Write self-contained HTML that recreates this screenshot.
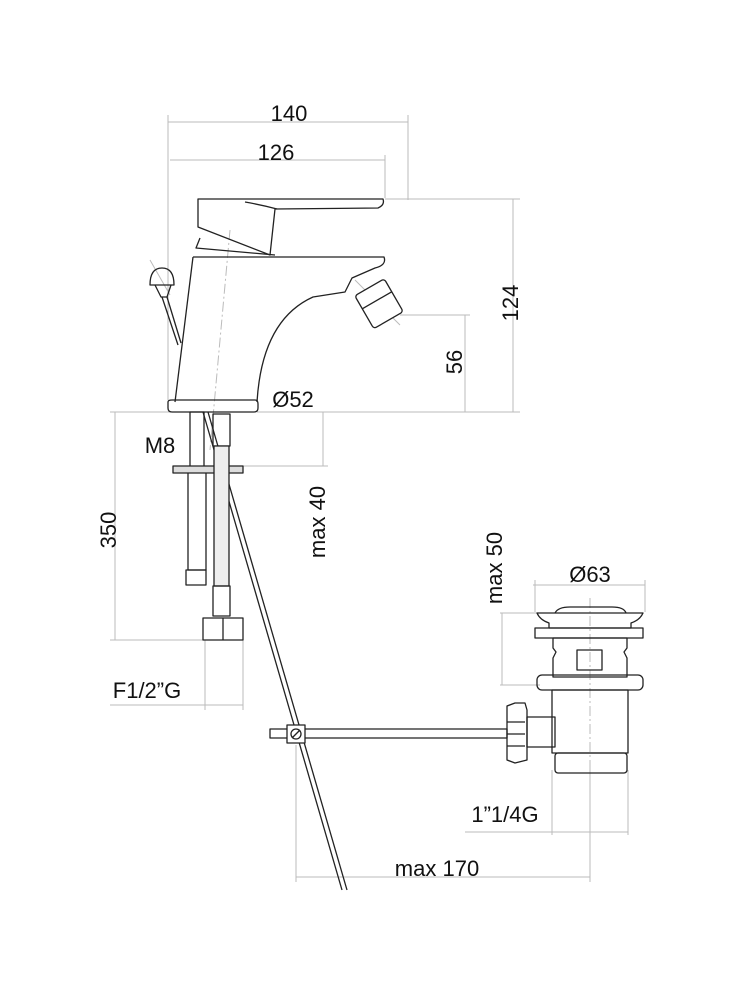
<!DOCTYPE html>
<html><head><style>html,body{margin:0;padding:0;background:#fff}svg{display:block}text{font-family:"Liberation Sans",sans-serif;fill:#111}</style></head>
<body>
<svg width="730" height="1000" viewBox="0 0 730 1000" xmlns="http://www.w3.org/2000/svg">
<g stroke="#bbb" stroke-width="1" fill="none">
<line x1="168" y1="122" x2="408" y2="122"/><line x1="168" y1="115" x2="168" y2="400"/><line x1="408" y1="115" x2="408" y2="200"/>
<line x1="170" y1="160" x2="385" y2="160"/><line x1="385" y1="155" x2="385" y2="198"/>
<line x1="385" y1="199" x2="520" y2="199"/><line x1="513" y1="199" x2="513" y2="412"/><line x1="257" y1="412" x2="520" y2="412"/>
<line x1="400" y1="315" x2="470" y2="315"/><line x1="465" y1="315" x2="465" y2="412"/>
<line x1="110" y1="412" x2="210" y2="412"/><line x1="115" y1="412" x2="115" y2="640"/><line x1="110" y1="640" x2="205" y2="640"/>
<line x1="243" y1="466" x2="328" y2="466"/><line x1="323" y1="412" x2="323" y2="466"/>
<line x1="205" y1="640" x2="205" y2="710"/><line x1="243" y1="640" x2="243" y2="710"/><line x1="110" y1="705" x2="243" y2="705"/>
<line x1="535" y1="580" x2="535" y2="612"/><line x1="645" y1="580" x2="645" y2="612"/><line x1="533" y1="585" x2="645" y2="585"/>
<line x1="500" y1="613" x2="540" y2="613"/><line x1="500" y1="685" x2="540" y2="685"/><line x1="502" y1="613" x2="502" y2="685"/>
<line x1="552" y1="770" x2="552" y2="835"/><line x1="628" y1="770" x2="628" y2="835"/><line x1="465" y1="832" x2="628" y2="832"/>
<line x1="296" y1="745" x2="296" y2="882"/><line x1="590" y1="770" x2="590" y2="882"/><line x1="296" y1="877" x2="590" y2="877"/>
<line x1="590" y1="598" x2="590" y2="782" stroke-dasharray="10,3,2,3"/>
<line x1="230" y1="230" x2="210" y2="450" stroke-dasharray="10,3,2,3"/>
<line x1="150" y1="260" x2="170" y2="295"/>
<line x1="355" y1="280" x2="400" y2="325"/>
</g>
<g stroke="#222" stroke-width="1.3" fill="none" stroke-linejoin="round">
<path d="M198,199 L383,199 Q385,205 378,208 L275,209 L270,255 L198,227 Z"/>
<path d="M245,202 Q262,205 277,209"/>
<path d="M200,238 L196,248 L275,255"/>
<path d="M193,257 L384,257 Q387,265 375,268 L352,278 L345,292 L313,297 Q262,320 257,402 M193,257 L175,402"/>
<path d="M168,402 Q168,400 172,400 L255,400 Q258,400 258,404 L258,408 Q258,412 254,412 L172,412 Q168,412 168,408 Z"/>
<g transform="rotate(-30 378 302)"><rect x="361" y="285" width="34" height="38" rx="3" fill="#fff"/><line x1="361" y1="300" x2="395" y2="300"/></g>
<path d="M150,285 Q150,268 162,268 Q174,268 174,285 Z"/><path d="M155,285 L161,297 L167,297 L171,285"/>
<line x1="162" y1="297" x2="178" y2="345"/><line x1="167" y1="297" x2="181" y2="343"/>
<line x1="203" y1="412" x2="342" y2="890"/><line x1="208" y1="412" x2="347" y2="890"/>
<rect x="190" y="412" width="14" height="58"/><rect x="188" y="472" width="18" height="98"/><rect x="186" y="570" width="20" height="15"/>
<rect x="173" y="466" width="70" height="7" fill="#ddd"/>
<rect x="213" y="414" width="17" height="32"/><rect x="214" y="446" width="15" height="140" fill="#eee"/><rect x="213" y="586" width="17" height="30"/>
<rect x="203" y="618" width="40" height="22"/><line x1="223" y1="618" x2="223" y2="640"/>
<path d="M537,613 L643,613 Q640,620 631,623 L631,628 L549,628 L549,623 Q540,620 537,613 Z"/>
<path d="M555,613 Q558,607 570,607 L612,607 Q624,607 626,613"/>
<rect x="535" y="628" width="108" height="10"/>
<path d="M553,638 L627,638 L627,648 L624,652 L627,658 L627,677 L553,677 L553,658 L556,652 L553,648 Z"/>
<rect x="577" y="650" width="25" height="20"/>
<rect x="537" y="675" width="106" height="15" rx="5"/>
<rect x="552" y="690" width="76" height="63"/><rect x="555" y="753" width="72" height="20" rx="3"/>
<rect x="527" y="717" width="28" height="30"/>
<path d="M507,706 L515,703 L525,703 L527,710 L527,760 L515,763 L507,760 Z"/>
<line x1="507" y1="722" x2="525" y2="722"/><line x1="507" y1="734" x2="525" y2="734"/><line x1="507" y1="746" x2="525" y2="746"/>
<rect x="270" y="729" width="237" height="9"/>
<rect x="287" y="725" width="18" height="18" fill="#fff"/><circle cx="296" cy="734" r="5"/><line x1="292" y1="738" x2="300" y2="730"/>
</g>
<g font-size="22">
<text x="289" y="121" text-anchor="middle">140</text>
<text x="276" y="160" text-anchor="middle">126</text>
<text x="293" y="407" text-anchor="middle">Ø52</text>
<text x="160" y="453" text-anchor="middle">M8</text>
<text x="147" y="698" text-anchor="middle">F1/2”G</text>
<text x="590" y="582" text-anchor="middle">Ø63</text>
<text x="505" y="822" text-anchor="middle">1”1/4G</text>
<text x="437" y="876" text-anchor="middle">max 170</text>
<text transform="translate(518,303) rotate(-90)" text-anchor="middle">124</text>
<text transform="translate(462,362) rotate(-90)" text-anchor="middle">56</text>
<text transform="translate(116,530) rotate(-90)" text-anchor="middle">350</text>
<text transform="translate(325,522) rotate(-90)" text-anchor="middle">max 40</text>
<text transform="translate(502,568) rotate(-90)" text-anchor="middle">max 50</text>
</g>
</svg>
</body></html>
